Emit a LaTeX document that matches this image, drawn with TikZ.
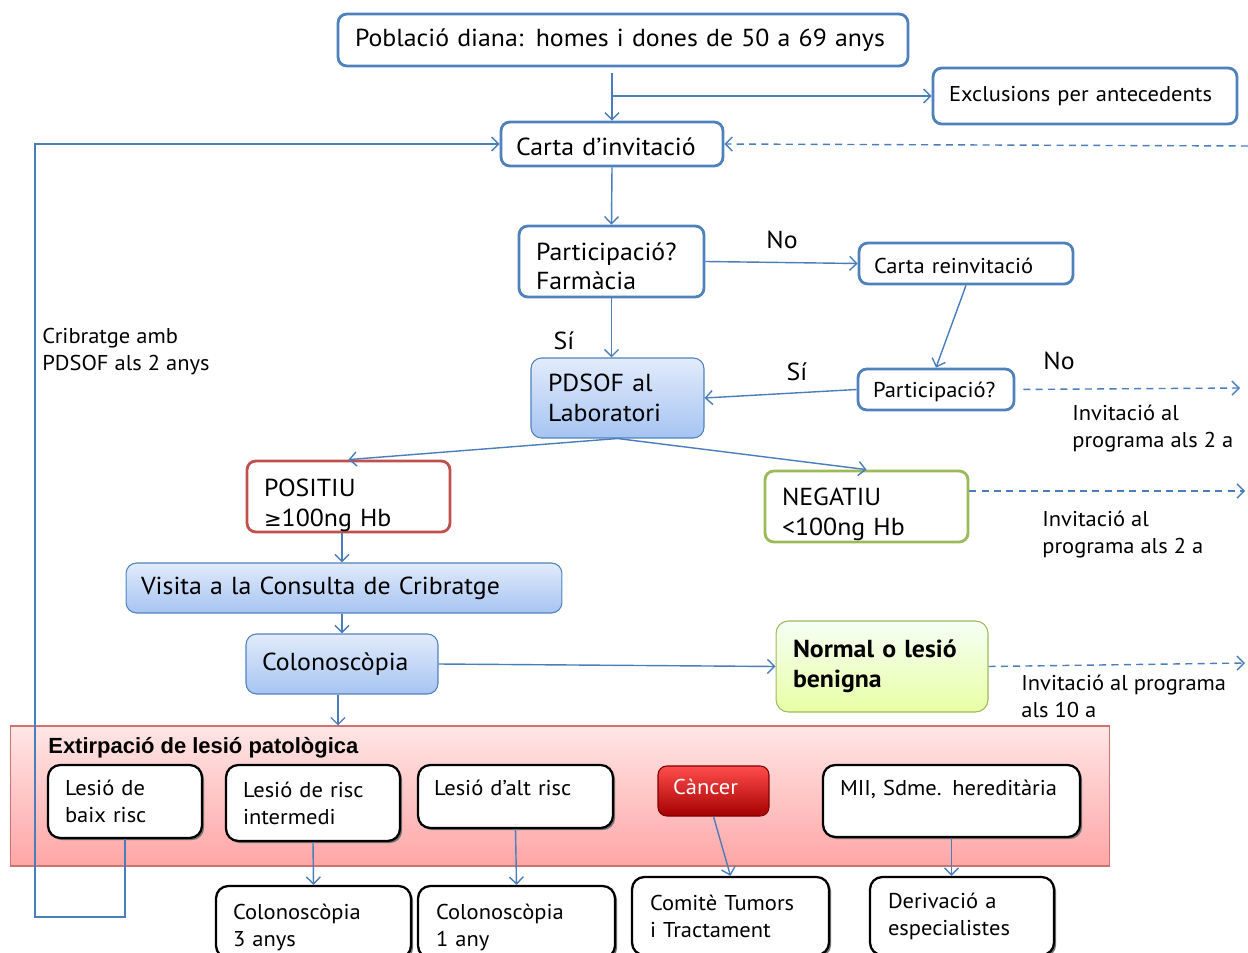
\documentclass[tikz,border=0pt]{standalone}
\usepackage{fontspec}
\setmainfont{PT Sans}[FakeStretch=1.05]
\newfontfamily\symfont{DejaVu Sans}
\newfontfamily\titlefont{Liberation Sans}
\usetikzlibrary{arrows.meta,shadows}

\definecolor{ofblue}{HTML}{4F81BD}
\definecolor{ofline}{HTML}{4A7EBB}
\definecolor{ofred}{HTML}{C0504D}
\definecolor{ofgreen}{HTML}{9BBB59}
\definecolor{labtop}{HTML}{E2EBFB}
\definecolor{labbot}{HTML}{A6C4F2}

\tikzset{
	big/.style={font=\fontsize{14}{17}\selectfont},
	small/.style={font=\fontsize{12.2}{15.3}\selectfont},
	flow/.style={draw=ofblue, line width=1.6pt, rounded corners=5pt, fill=white, align=left, inner ysep=0pt},
	lab/.style={draw=ofblue, line width=0.6pt, rounded corners=6pt, top color=labtop, bottom color=labbot, align=left, inner ysep=0pt},
	risk/.style={draw=black, line width=1.3pt, rounded corners=7pt, fill=white, align=left, inner ysep=0pt,
		drop shadow={shadow xshift=1.2pt, shadow yshift=-1.2pt, fill=black!55, opacity=1}},
	conn/.style={draw=ofline, line width=0.8pt, -{Straight Barb[length=4pt,width=8pt]}},
	invit/.style={conn, dashed, dash pattern=on 4pt off 3pt},
	note/.style={small, anchor=north west, align=left, inner sep=0pt},
}

\begin{document}
\begin{tikzpicture}[x=0.02cm, y=-0.02cm]
	\useasboundingbox (0,0) rectangle (1248,953);

	\begin{scope} % pink area
		\node (extirp) [draw=ofred!80, line width=0.6pt, top color=red!10!white, bottom color=red!35!white,
			minimum width=22cm, minimum height=2.8cm] at (560,796) {};
		\node (extirptitle) [anchor=base west, inner sep=0pt, font=\titlefont\bfseries\fontsize{12.5}{15}\selectfont] at (48,753) {Extirpació de lesió patològica};
	\end{scope}

	\begin{scope} % top of the flow
		\node (pob) [flow, big, minimum width=11.4cm, minimum height=1.04cm, inner xsep=0.34cm, text width=10.72cm] at (623,40) {Població diana: homes i dones de 50 a 69 anys};
		\node (excl) [flow, small, minimum width=6.08cm, minimum height=1.12cm, inner xsep=0.32cm, text width=5.44cm] at (1085,96) {Exclusions per antecedents\\[2pt]};
		\node (carta) [flow, big, minimum width=4.44cm, minimum height=0.88cm, inner xsep=0.3cm, text width=3.84cm] at (612,144) {\rule{0pt}{13pt}Carta d’invitació};
		\node (part1) [flow, big, minimum width=3.7cm, minimum height=1.42cm, inner xsep=0.34cm, text width=3.02cm] at (611.5,261.5) {\rule{0pt}{15.5pt}Participació?\\Farmàcia};
		\node (reinv) [flow, small, minimum width=4.28cm, minimum height=0.82cm, inner xsep=0.3cm, text width=3.68cm] at (966,263.5) {\rule{0pt}{12pt}Carta reinvitació};
		\node (part2) [flow, small, minimum width=3.12cm, minimum height=0.82cm, inner xsep=0.3cm, text width=2.52cm] at (936,389.5) {\rule{0pt}{12pt}Participació?};
		\node (pdsof) [lab, big, minimum width=3.46cm, minimum height=1.6cm, inner xsep=0.34cm, text width=2.78cm] at (617.5,398) {PDSOF al\\Laboratori};
	\end{scope}

	\begin{scope} % results
		\node (positiu) [flow, draw=ofred, big, minimum width=4.06cm, minimum height=1.42cm, inner xsep=0.34cm, text width=3.38cm] at (348.5,496.5) {\rule{0pt}{20pt}POSITIU\\{\symfont\fontsize{12}{17}\selectfont ≥}100ng Hb};
		\node (negatiu) [flow, draw=ofgreen, big, minimum width=4.06cm, minimum height=1.42cm, inner xsep=0.34cm, text width=3.38cm] at (866.5,506.5) {\rule{0pt}{19pt}NEGATIU\\<100ng Hb};
		\node (visita) [lab, big, minimum width=8.72cm, minimum height=1.0cm, inner xsep=0.3cm, text width=8.12cm] at (344,588) {Visita a la Consulta de Cribratge};
		\node (colono) [lab, big, minimum width=3.84cm, minimum height=1.2cm, inner xsep=0.32cm, text width=3.2cm] at (342,664) {Colonoscòpia\\[6pt]};
		\node (normal) [draw=ofgreen, line width=0.6pt, rounded corners=7pt, top color=green!4!white, bottom color=lime!35!white,
			big, font=\bfseries\fontsize{14}{17}\selectfont, align=left, inner ysep=0pt,
			minimum width=4.24cm, minimum height=1.82cm, inner xsep=0.34cm, text width=3.56cm] at (882,666.5) {Normal o lesió\\benigna};
	\end{scope}

	\begin{scope} % lesions
		\node (baix) [risk, small, minimum width=3.08cm, minimum height=1.46cm, inner xsep=0.34cm, text width=2.4cm] at (125,801.5) {Lesió de\\baix risc};
		\node (inter) [risk, small, minimum width=3.48cm, minimum height=1.52cm, inner xsep=0.34cm, text width=2.8cm] at (313,803) {Lesió de risc\\intermedi};
		\node (alt) [risk, small, minimum width=3.9cm, minimum height=1.26cm, inner xsep=0.32cm, text width=3.26cm] at (515.5,796.5) {Lesió d’alt risc\\[-5pt]\mbox{}};
		\node (cancer) [draw=red!50!black, line width=0.6pt, rounded corners=5pt, top color=red!70!white, bottom color=red!65!black,
			small, text=white, align=left, inner ysep=0pt,
			minimum width=2.22cm, minimum height=1.0cm, inner xsep=0.3cm, text width=1.62cm] at (713.5,791) {Càncer\\[-10pt]\mbox{}};
		\node (mii) [risk, small, minimum width=5.14cm, minimum height=1.44cm, inner xsep=0.34cm, text width=4.46cm] at (951.5,801) {MII, Sdme. hereditària\\\mbox{}};

		\node (col3) [risk, small, minimum width=3.9cm, minimum height=1.44cm, inner xsep=0.34cm, text width=3.22cm] at (313.5,922) {\rule{0pt}{15pt}Colonoscòpia\\3 anys};
		\node (col1) [risk, small, minimum width=3.94cm, minimum height=1.44cm, inner xsep=0.36cm, text width=3.22cm] at (516.5,922) {\rule{0pt}{15pt}Colonoscòpia\\1 any};
		\node (comite) [risk, small, minimum width=3.94cm, minimum height=1.56cm, inner xsep=0.36cm, text width=3.22cm] at (730.5,916) {Comitè Tumors\\i Tractament};
		\node (deriv) [risk, small, minimum width=3.68cm, minimum height=1.56cm, inner xsep=0.36cm, text width=2.96cm] at (962,916) {Derivació a\\especialistes};
	\end{scope}

	\begin{scope} % texts beside the lines
		\node (no1) [big, anchor=base] at (782,248) {No};
		\node (si1) [big, anchor=base] at (564,349) {Sí};
		\node (si2) [big, anchor=base] at (797,380) {Sí};
		\node (no2) [big, anchor=base] at (1059,369) {No};
		\node (inv1) [note] at (1072,405) {Invitació al\\programa als 2 a};
		\node (inv2) [note] at (1042,511) {Invitació al\\programa als 2 a};
		\node (inv3) [note] at (1021,675) {Invitació al programa\\als 10 a};
		\node (cribr) [note] at (42,328) {Cribratge amb\\PDSOF als 2 anys};
	\end{scope}

	\coordinate (split) at (612,96);
	\coordinate (ret) at (35,917);
	\coordinate (back) at (1248,146);
	\coordinate (out1) at (1240,388);
	\coordinate (out2) at (1245,491);
	\coordinate (out3) at (1245,663);

	% connectors
	\draw[conn] ([yshift=-0.12cm]carta.north |- pob.south) -- (carta.north);
	\draw[conn] (split) -- (excl.west);
	\draw[conn] (carta.south) -- (part1.north);
	\draw[conn] (part1.south) -- (part1.south |- pdsof.north);
	\draw[conn] (part1.east) -- (reinv.west);
	\draw[conn] (reinv.south) -- (part2.north);
	\draw[conn] (part2.west) -- (pdsof.east);
	\draw[conn] (pdsof.south) -- (positiu.north);
	\draw[conn] (pdsof.south) -- (negatiu.north);
	\draw[conn] ([xshift=-0.13cm]positiu.south) -- ([xshift=-0.13cm]positiu.south |- visita.north);
	\draw[conn] (visita.south -| colono.north) -- (colono.north);
	\draw[conn] (colono.east) -- (normal.west);
	\draw[conn] ([xshift=-0.08cm]colono.south) -- ([xshift=-0.08cm]colono.south |- extirp.north);
	\draw[conn] (inter.south) -- (col3.north);
	\draw[conn] (alt.south) -- (col1.north);
	\draw[conn] (cancer.south) -- (comite.north);
	\draw[conn] (mii.south) -- (mii.south |- deriv.north);
	\draw[conn] (baix.south) |- (ret) |- (carta.west);

	% invitations
	\draw[invit] (back) -- (carta.east);
	\draw[invit, shorten <=0.16cm] (part2.east) -- (out1);
	\draw[invit] (negatiu.east |- out2) -- (out2);
	\draw[invit] (normal.east) -- (out3);
\end{tikzpicture}
\end{document}
